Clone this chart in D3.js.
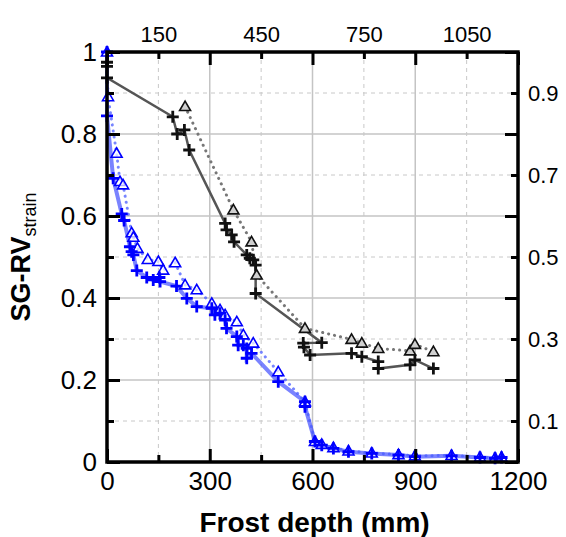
<!DOCTYPE html>
<html>
<head>
<meta charset="utf-8">
<script src="https://cdn.jsdelivr.net/npm/d3@7"></script>
<style>
  body { margin: 0; background: #fff; }
  svg { display: block; font-family: "Liberation Sans", Arial, sans-serif; }
</style>
</head>
<body>
<div class="a"></div>
<script>
// frost depth (mm) / SG-RV strain
const blackCross = [
  [0, 0.975], [0, 0.965], [0, 0.937], [192, 0.842], [205, 0.80], [226, 0.81], [240, 0.761],
  [345, 0.582], [349, 0.566], [364, 0.554], [371, 0.537], [408, 0.505], [417, 0.497],
  [427, 0.493], [434, 0.48], [434, 0.411], [627, 0.291], [573, 0.29], [575, 0.28],
  [593, 0.261], [714, 0.265], [744, 0.257], [792, 0.245], [792, 0.228], [885, 0.237],
  [899, 0.249], [953, 0.228]
];
const blackTri = [
  [228, 0.867], [369, 0.615], [422, 0.537], [437, 0.456], [578, 0.326], [714, 0.299],
  [744, 0.29], [792, 0.277], [885, 0.271], [899, 0.287], [953, 0.269]
];
const blueCross = [
  [0, 1.0], [0, 0.844], [18, 0.692], [43, 0.605], [50, 0.589], [67, 0.525], [72, 0.513],
  [77, 0.505], [87, 0.467], [116, 0.45], [135, 0.444], [153, 0.45], [155, 0.44],
  [203, 0.429], [233, 0.399], [262, 0.379], [306, 0.375], [315, 0.359], [330, 0.363],
  [345, 0.346], [349, 0.326], [379, 0.306], [383, 0.285], [398, 0.285], [408, 0.277],
  [408, 0.253], [422, 0.265], [500, 0.196], [578, 0.147], [578, 0.135], [607, 0.05],
  [627, 0.041], [661, 0.033], [705, 0.025], [773, 0.021], [851, 0.017], [899, 0.013],
  [1006, 0.015], [1089, 0.011], [1133, 0.009], [1152, 0.011]
];
const blueTri = [
  [0, 1.0], [3, 0.891], [28, 0.753], [38, 0.684], [47, 0.676], [72, 0.559], [77, 0.548],
  [89, 0.521], [119, 0.494], [150, 0.489], [164, 0.468], [199, 0.486], [228, 0.432],
  [262, 0.42], [306, 0.387], [330, 0.371], [345, 0.359], [379, 0.342], [398, 0.31],
  [427, 0.29], [500, 0.22], [578, 0.147], [607, 0.05], [627, 0.043], [661, 0.035],
  [705, 0.027], [773, 0.022], [851, 0.018], [899, 0.015], [1006, 0.016], [1089, 0.012],
  [1133, 0.01], [1152, 0.012]
];

const xMajor = [0, 300, 600, 900, 1200];
const xMinor = [150, 450, 750, 1050];
const yMajor = [0, 0.2, 0.4, 0.6, 0.8, 1];
const yMinor = [0.1, 0.3, 0.5, 0.7, 0.9];

const W = 566, H = 537;
const margin = { top: 52, right: 48, bottom: 75, left: 107 };
const width = W - margin.left - margin.right;
const height = H - margin.top - margin.bottom;

const svg = d3.select(".a").append("svg")
  .attr("width", W).attr("height", H)
  .append("g")
  .attr("transform", `translate(${margin.left},${margin.top})`);

const x = d3.scaleLinear().domain([0, 1200]).range([0, width]);
const y = d3.scaleLinear().domain([0, 1]).range([height, 0]);

// grid
svg.append("g").selectAll("line").data(xMajor.slice(1, -1)).join("line")
  .attr("x1", d => x(d)).attr("x2", d => x(d)).attr("y1", 0).attr("y2", height)
  .attr("stroke", "#c4c4c4").attr("stroke-width", 1.5);
svg.append("g").selectAll("line").data(yMajor.slice(1, -1)).join("line")
  .attr("x1", 0).attr("x2", width).attr("y1", d => y(d)).attr("y2", d => y(d))
  .attr("stroke", "#c4c4c4").attr("stroke-width", 1.5);
svg.append("g").selectAll("line").data(xMinor).join("line")
  .attr("x1", d => x(d)).attr("x2", d => x(d)).attr("y1", 0).attr("y2", height)
  .attr("stroke", "#c8c8c8").attr("stroke-width", 1).attr("stroke-dasharray", "4,4");
svg.append("g").selectAll("line").data(yMinor).join("line")
  .attr("x1", 0).attr("x2", width).attr("y1", d => y(d)).attr("y2", d => y(d))
  .attr("stroke", "#c8c8c8").attr("stroke-width", 1).attr("stroke-dasharray", "4,4");

// lines
const line = d3.line().x(d => x(d[0])).y(d => y(d[1]));

svg.append("path").datum(blackCross).attr("d", line)
  .attr("fill", "none").attr("stroke", "#555").attr("stroke-width", 2.5);
svg.append("path").datum(blackTri).attr("d", line)
  .attr("fill", "none").attr("stroke", "#777").attr("stroke-width", 3)
  .attr("stroke-linecap", "round").attr("stroke-dasharray", "0.1,6");
svg.append("path").datum(blueCross).attr("d", line)
  .attr("fill", "none").attr("stroke", "#3340ff").attr("stroke-opacity", 0.65)
  .attr("stroke-width", 4);
svg.append("path").datum(blueTri).attr("d", line)
  .attr("fill", "none").attr("stroke", "#4a5cff").attr("stroke-opacity", 0.75)
  .attr("stroke-width", 3).attr("stroke-linecap", "round").attr("stroke-dasharray", "0.1,6");

// markers
function plus(data, color) {
  svg.append("g").selectAll("path").data(data).join("path")
    .attr("transform", d => `translate(${x(d[0])},${y(d[1])})`)
    .attr("d", "M-6,0H6M0,-6V6")
    .attr("stroke", color).attr("stroke-width", 2.8).attr("fill", "none");
}
function tri(data, color, fill) {
  svg.append("g").selectAll("path").data(data).join("path")
    .attr("transform", d => `translate(${x(d[0])},${y(d[1])})`)
    .attr("d", "M0,-5.5L5.5,4L-5.5,4Z")
    .attr("stroke", color).attr("stroke-width", 1.6).attr("fill", fill);
}
tri(blackTri, "#111", "#d0d0d0");
plus(blackCross, "#111");
tri(blueTri, "#0000ff", "rgba(255,255,255,0.7)");
plus(blueCross, "#0000ff");

// axes
function style(g, fs) {
  g.select(".domain").remove();
  g.selectAll(".tick line").attr("stroke", "#000").attr("stroke-width", 3);
  g.selectAll(".tick text").attr("fill", "#000").style("font-size", fs + "px");
}
svg.append("g").attr("transform", `translate(0,${height})`)
  .call(d3.axisBottom(x).tickValues(xMajor).tickSize(-13).tickPadding(10).tickFormat(d3.format("d")))
  .call(g => style(g, 26));
svg.append("g").attr("transform", `translate(0,${height})`)
  .call(d3.axisBottom(x).tickValues(xMinor).tickSize(-7).tickFormat(""))
  .call(g => style(g, 26));
svg.append("g")
  .call(d3.axisTop(x).tickValues(xMinor).tickSize(-7).tickPadding(10).tickFormat(d3.format("d")))
  .call(g => style(g, 22));
svg.append("g")
  .call(d3.axisTop(x).tickValues(xMajor).tickSize(-13).tickFormat(""))
  .call(g => style(g, 22));
svg.append("g")
  .call(d3.axisLeft(y).tickValues(yMajor).tickSize(-13).tickPadding(10).tickFormat(d3.format("")))
  .call(g => style(g, 26));
svg.append("g")
  .call(d3.axisLeft(y).tickValues(yMinor).tickSize(-7).tickFormat(""))
  .call(g => style(g, 26));
svg.append("g").attr("transform", `translate(${width},0)`)
  .call(d3.axisRight(y).tickValues(yMinor).tickSize(-7).tickPadding(10).tickFormat(d3.format("")))
  .call(g => style(g, 22));
svg.append("g").attr("transform", `translate(${width},0)`)
  .call(d3.axisRight(y).tickValues(yMajor).tickSize(-13).tickFormat(""))
  .call(g => style(g, 22));

// frame
svg.append("rect").attr("width", width).attr("height", height)
  .attr("fill", "none").attr("stroke", "#000").attr("stroke-width", 3.5);

// titles
svg.append("text")
  .attr("x", width / 2 + 2).attr("y", height + 70)
  .attr("text-anchor", "middle")
  .style("font-size", "28px").style("font-weight", "bold")
  .text("Frost depth (mm)");

const yl = svg.append("text")
  .attr("transform", `translate(${-77},${height / 2}) rotate(-90)`)
  .attr("text-anchor", "middle")
  .style("font-size", "27px").style("font-weight", "bold");
yl.append("tspan").text("SG-RV");
yl.append("tspan").attr("dy", 6).style("font-size", "18px").style("font-weight", "normal").text("strain");
</script>
</body>
</html>
